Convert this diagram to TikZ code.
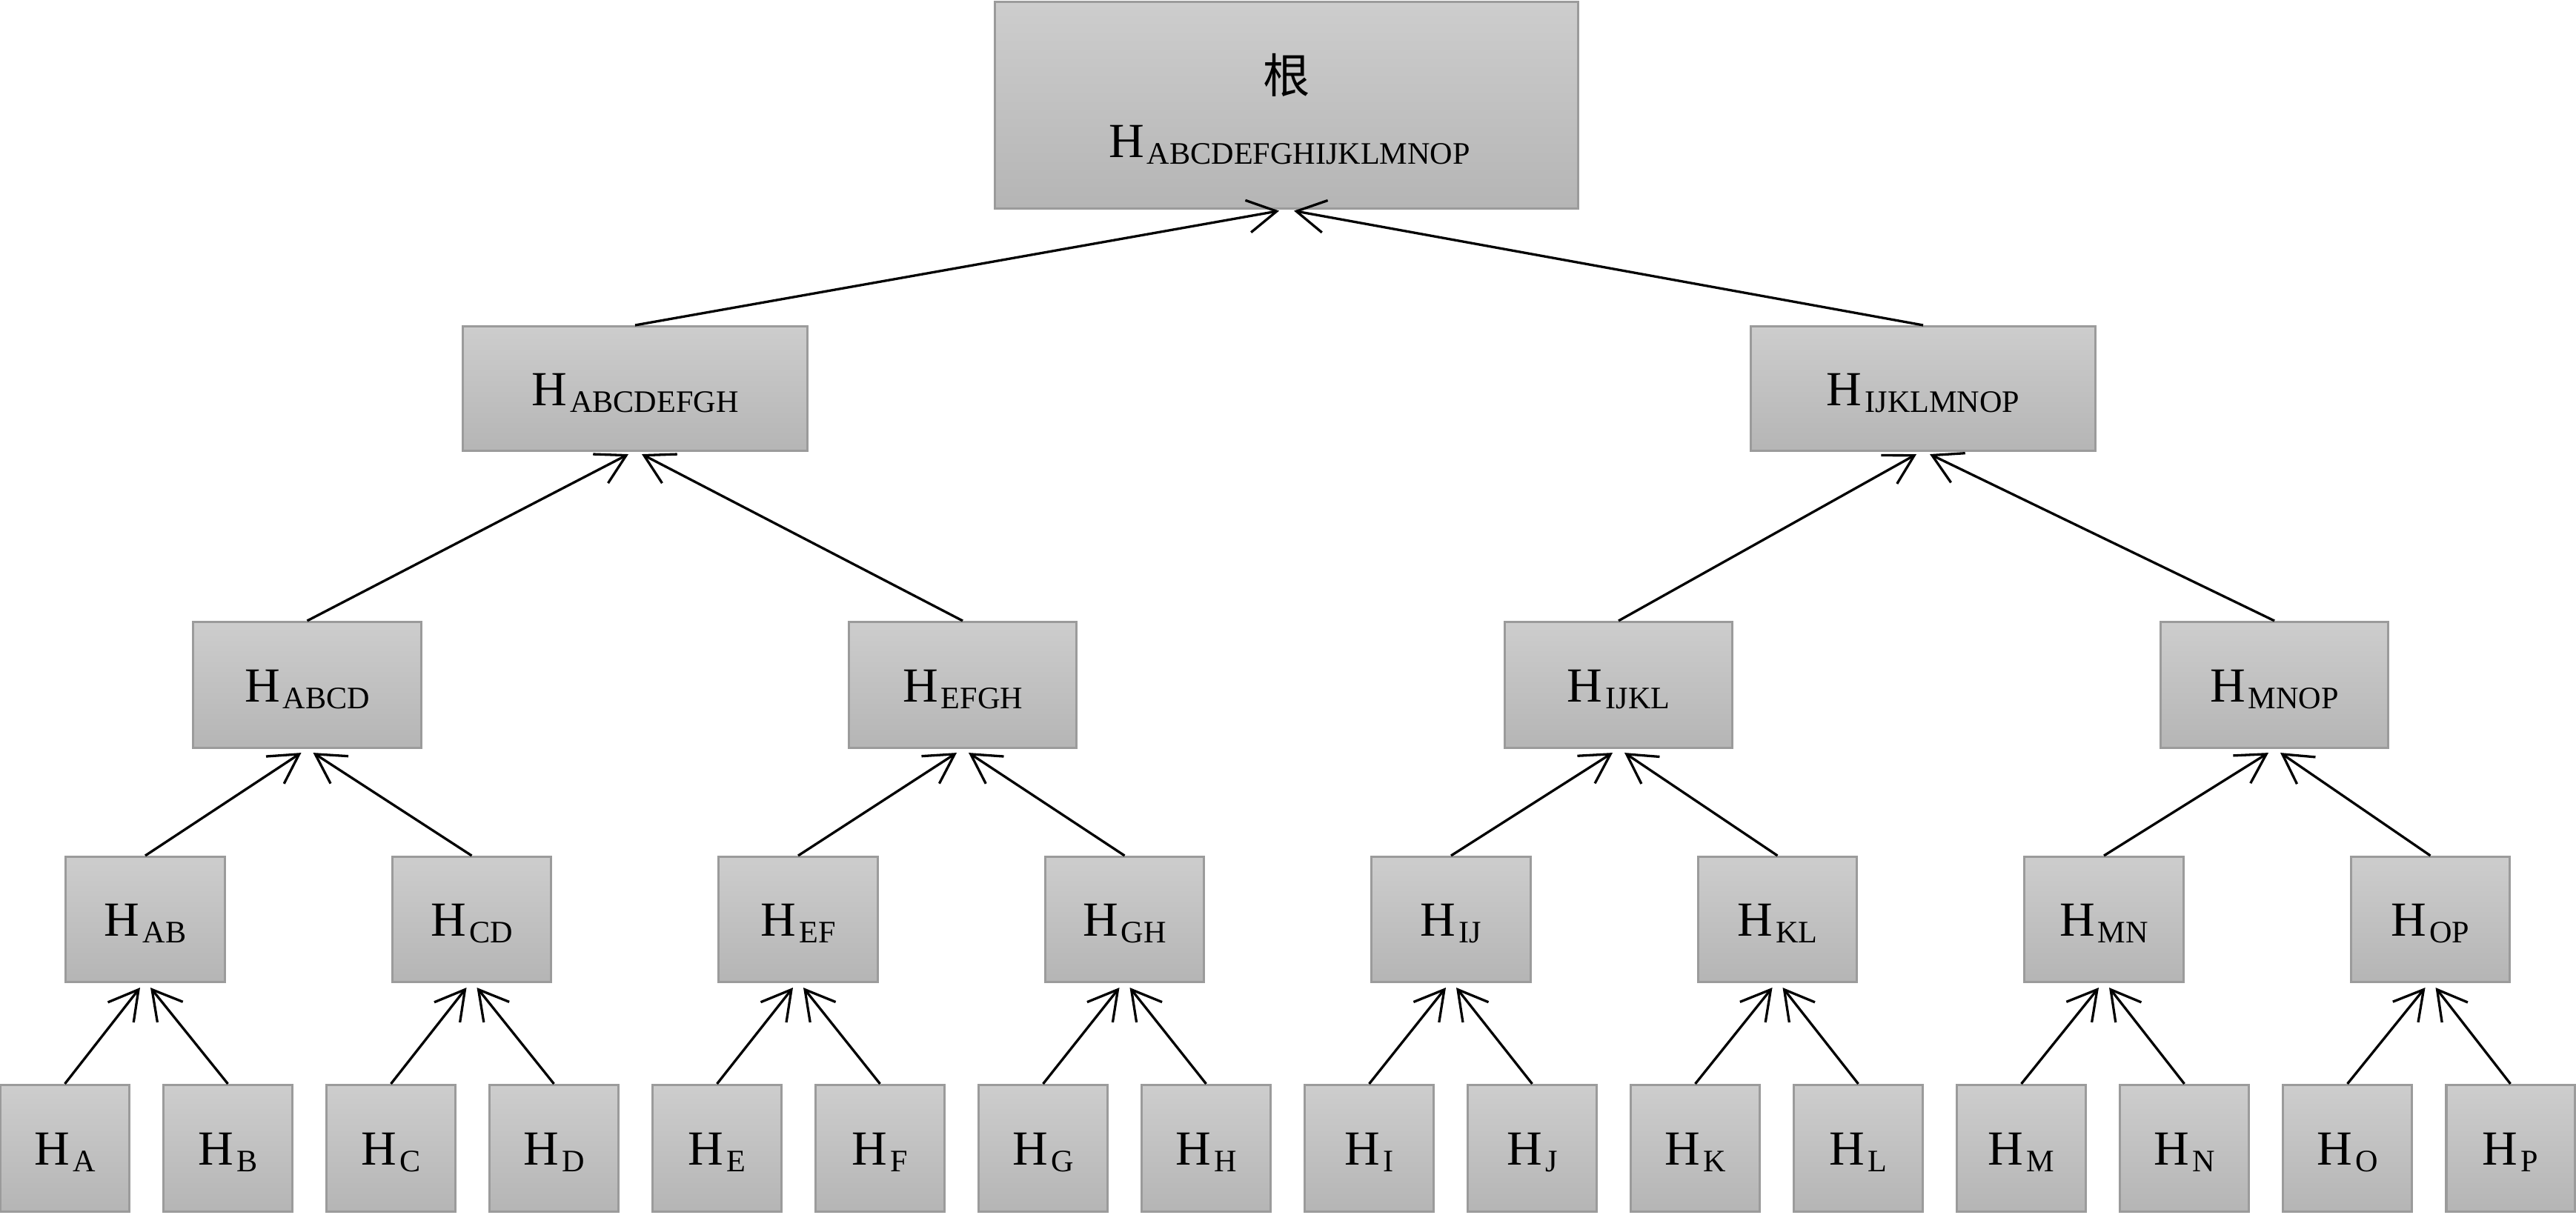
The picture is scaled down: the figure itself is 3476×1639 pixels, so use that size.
\documentclass[tikz,border=0pt]{standalone}
\usepackage{fontspec}
\setmainfont{Liberation Serif}
\newfontfamily\cjk{Noto Sans CJK SC}
\usetikzlibrary{arrows.meta,calc}
\definecolor{boxtop}{RGB}{205,205,205}
\definecolor{boxbot}{RGB}{181,181,181}
\definecolor{boxline}{RGB}{155,155,155}
\newcommand\sbx[1]{\kern0.04cm\raisebox{-0.09cm}{\fontsize{12pt}{14pt}\selectfont #1}}
\begin{document}
\begin{tikzpicture}[x=0.01cm,y=-0.01cm,
  hbox/.style={rectangle, draw=boxline, line width=0.03cm, top color=boxtop, bottom color=boxbot,
    inner sep=0pt, text height=0.45cm, text depth=0pt, font=\fontsize{18.8pt}{22pt}\selectfont},
  leaf/.style={hbox, minimum width=1.73cm, minimum height=1.71cm},
  lthree/.style={hbox, minimum width=2.14cm, minimum height=1.69cm},
  ltwo/.style={hbox, minimum width=3.07cm, minimum height=1.70cm},
  lone/.style={hbox, minimum width=4.65cm, minimum height=1.68cm},
  rootbox/.style={hbox, minimum width=7.86cm, minimum height=2.78cm},
  plain/.style={inner sep=0pt, text height=0.45cm, text depth=0pt, font=\fontsize{18.8pt}{22pt}\selectfont},
  arr/.style={line width=0.033cm, -{Straight Barb[length=0.39cm,width=0.44cm]}}]
\useasboundingbox (0,0) rectangle (3476,1639);
% leaves
\foreach \l [count=\i from 0] in {A,B,C,D,E,F,G,H,I,J,K,L,M,N,O,P}
  \node[leaf] (\l) at ({87.5+220*\i},1550) {H\sbx{\l}};
% level 3
\foreach \p/\a/\b [count=\i from 0] in {AB/A/B,CD/C/D,EF/E/F,GH/G/H,IJ/I/J,KL/K/L,MN/M/N,OP/O/P}{
  \node[lthree] (\p) at ({196+440.5*\i},1241) {H\sbx{\p}};
  \draw[arr] (\a.north) -- ($(\p.south)+(-7,6)$);
  \draw[arr] (\b.north) -- ($(\p.south)+(7,6)$);
}
% level 2
\foreach \p/\a/\b/\x in {ABCD/AB/CD/414.5,EFGH/EF/GH/1299,IJKL/IJ/KL/2184,MNOP/MN/OP/3069}{
  \node[ltwo] (\p) at (\x,924.5) {H\sbx{\p}};
  \draw[arr] (\a.north) -- ($(\p.south)+(-8,5)$);
  \draw[arr] (\b.north) -- ($(\p.south)+(8,5)$);
}
% level 1
\foreach \p/\a/\b/\x in {ABCDEFGH/ABCD/EFGH/857,IJKLMNOP/IJKL/MNOP/2595}{
  \node[lone] (\p) at (\x,524.5) {H\sbx{\p}};
  \draw[arr] (\a.north) -- ($(\p.south)+(-9,3)$);
  \draw[arr] (\b.north) -- ($(\p.south)+(9,3)$);
}
% root
\node[rootbox] (root) at (1736,142) {};
\node[inner sep=0pt, font=\fontsize{18pt}{20pt}\selectfont] (rootzh) at (1736,101) {\cjk 根};
\node[plain] (roothash) at (1740,190) {H\sbx{ABCDEFGHIJKLMNOP}};
\draw[arr] (ABCDEFGH.north) -- ($(root.south)+(-10,2)$);
\draw[arr] (IJKLMNOP.north) -- ($(root.south)+(10,2)$);
\end{tikzpicture}
\end{document}
